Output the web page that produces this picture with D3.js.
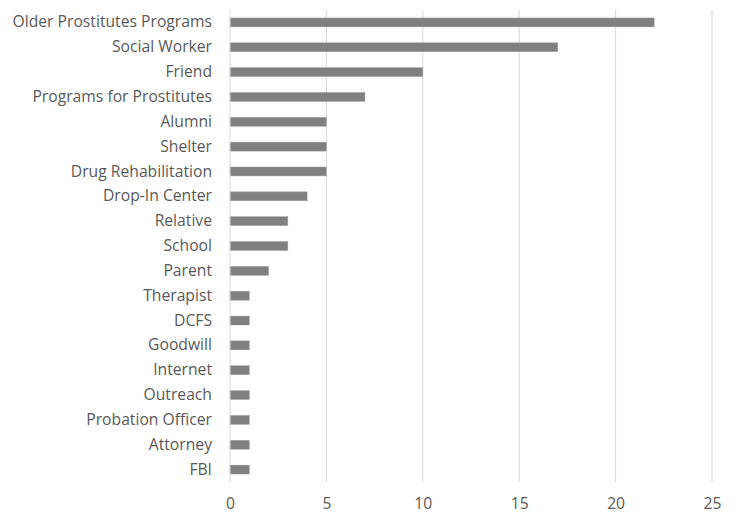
<!DOCTYPE html>
<html><head><meta charset="utf-8">
<script src="https://cdn.jsdelivr.net/npm/d3@7"></script>
<style>body{margin:0;background:#fff}</style>
</head><body>
<svg id="c" width="737" height="514"></svg>
<script>
const categories = ["Older Prostitutes Programs","Social Worker","Friend","Programs for Prostitutes","Alumni","Shelter","Drug Rehabilitation","Drop-In Center","Relative","School","Parent","Therapist","DCFS","Goodwill","Internet","Outreach","Probation Officer","Attorney","FBI"];
const values = [22,17,10,7,5,5,5,4,3,3,2,1,1,1,1,1,1,1,1];
const xTicks = [0,5,10,15,20,25];

const svg = d3.select("#c");
const m = {left:230, right:25, top:10, bottom:32};
const W = 737, H = 514;
const x = d3.scaleLinear().domain([0,25]).range([m.left, W - m.right]);
const y = d3.scaleBand().domain(categories).range([m.top, H - m.bottom]).paddingInner(0.64).paddingOuter(0.32);
const font = "'Open Sans', sans-serif";

// gridlines
svg.append("g").selectAll("line").data(xTicks.slice(1)).join("line")
  .attr("x1", d=>x(d)).attr("x2", d=>x(d)).attr("y1", m.top).attr("y2", H - m.bottom)
  .attr("stroke", "#d9d9d9").attr("stroke-width", 1);

// bars
svg.append("g").selectAll("rect").data(values).join("rect")
  .attr("x", x(0)).attr("y", (d,i)=>y(categories[i]))
  .attr("width", d=>x(d)-x(0)).attr("height", y.bandwidth())
  .attr("fill", "#808080").attr("stroke", "#a0a0a0").attr("stroke-width", 0.5);

// y axis line
svg.append("line").attr("x1", x(0)).attr("x2", x(0)).attr("y1", m.top).attr("y2", H - m.bottom)
  .attr("stroke", "#d9d9d9").attr("stroke-width", 1);

// y labels
const yAxis = d3.axisLeft(y).tickSize(0).tickPadding(18);
const gy = svg.append("g").attr("transform", `translate(${x(0)},0)`).call(yAxis);
gy.select(".domain").remove();
gy.selectAll("text").attr("fill", "#595959").style("font-family", font).style("font-size", "15.7px");

// x labels
const xAxis = d3.axisBottom(x).tickValues(xTicks).tickSize(0).tickPadding(16);
const gx = svg.append("g").attr("transform", `translate(0,${H - m.bottom})`).call(xAxis);
gx.select(".domain").remove();
gx.selectAll("text").attr("fill", "#595959").style("font-family", font).style("font-size", "15.7px");
</script>
</body></html>
